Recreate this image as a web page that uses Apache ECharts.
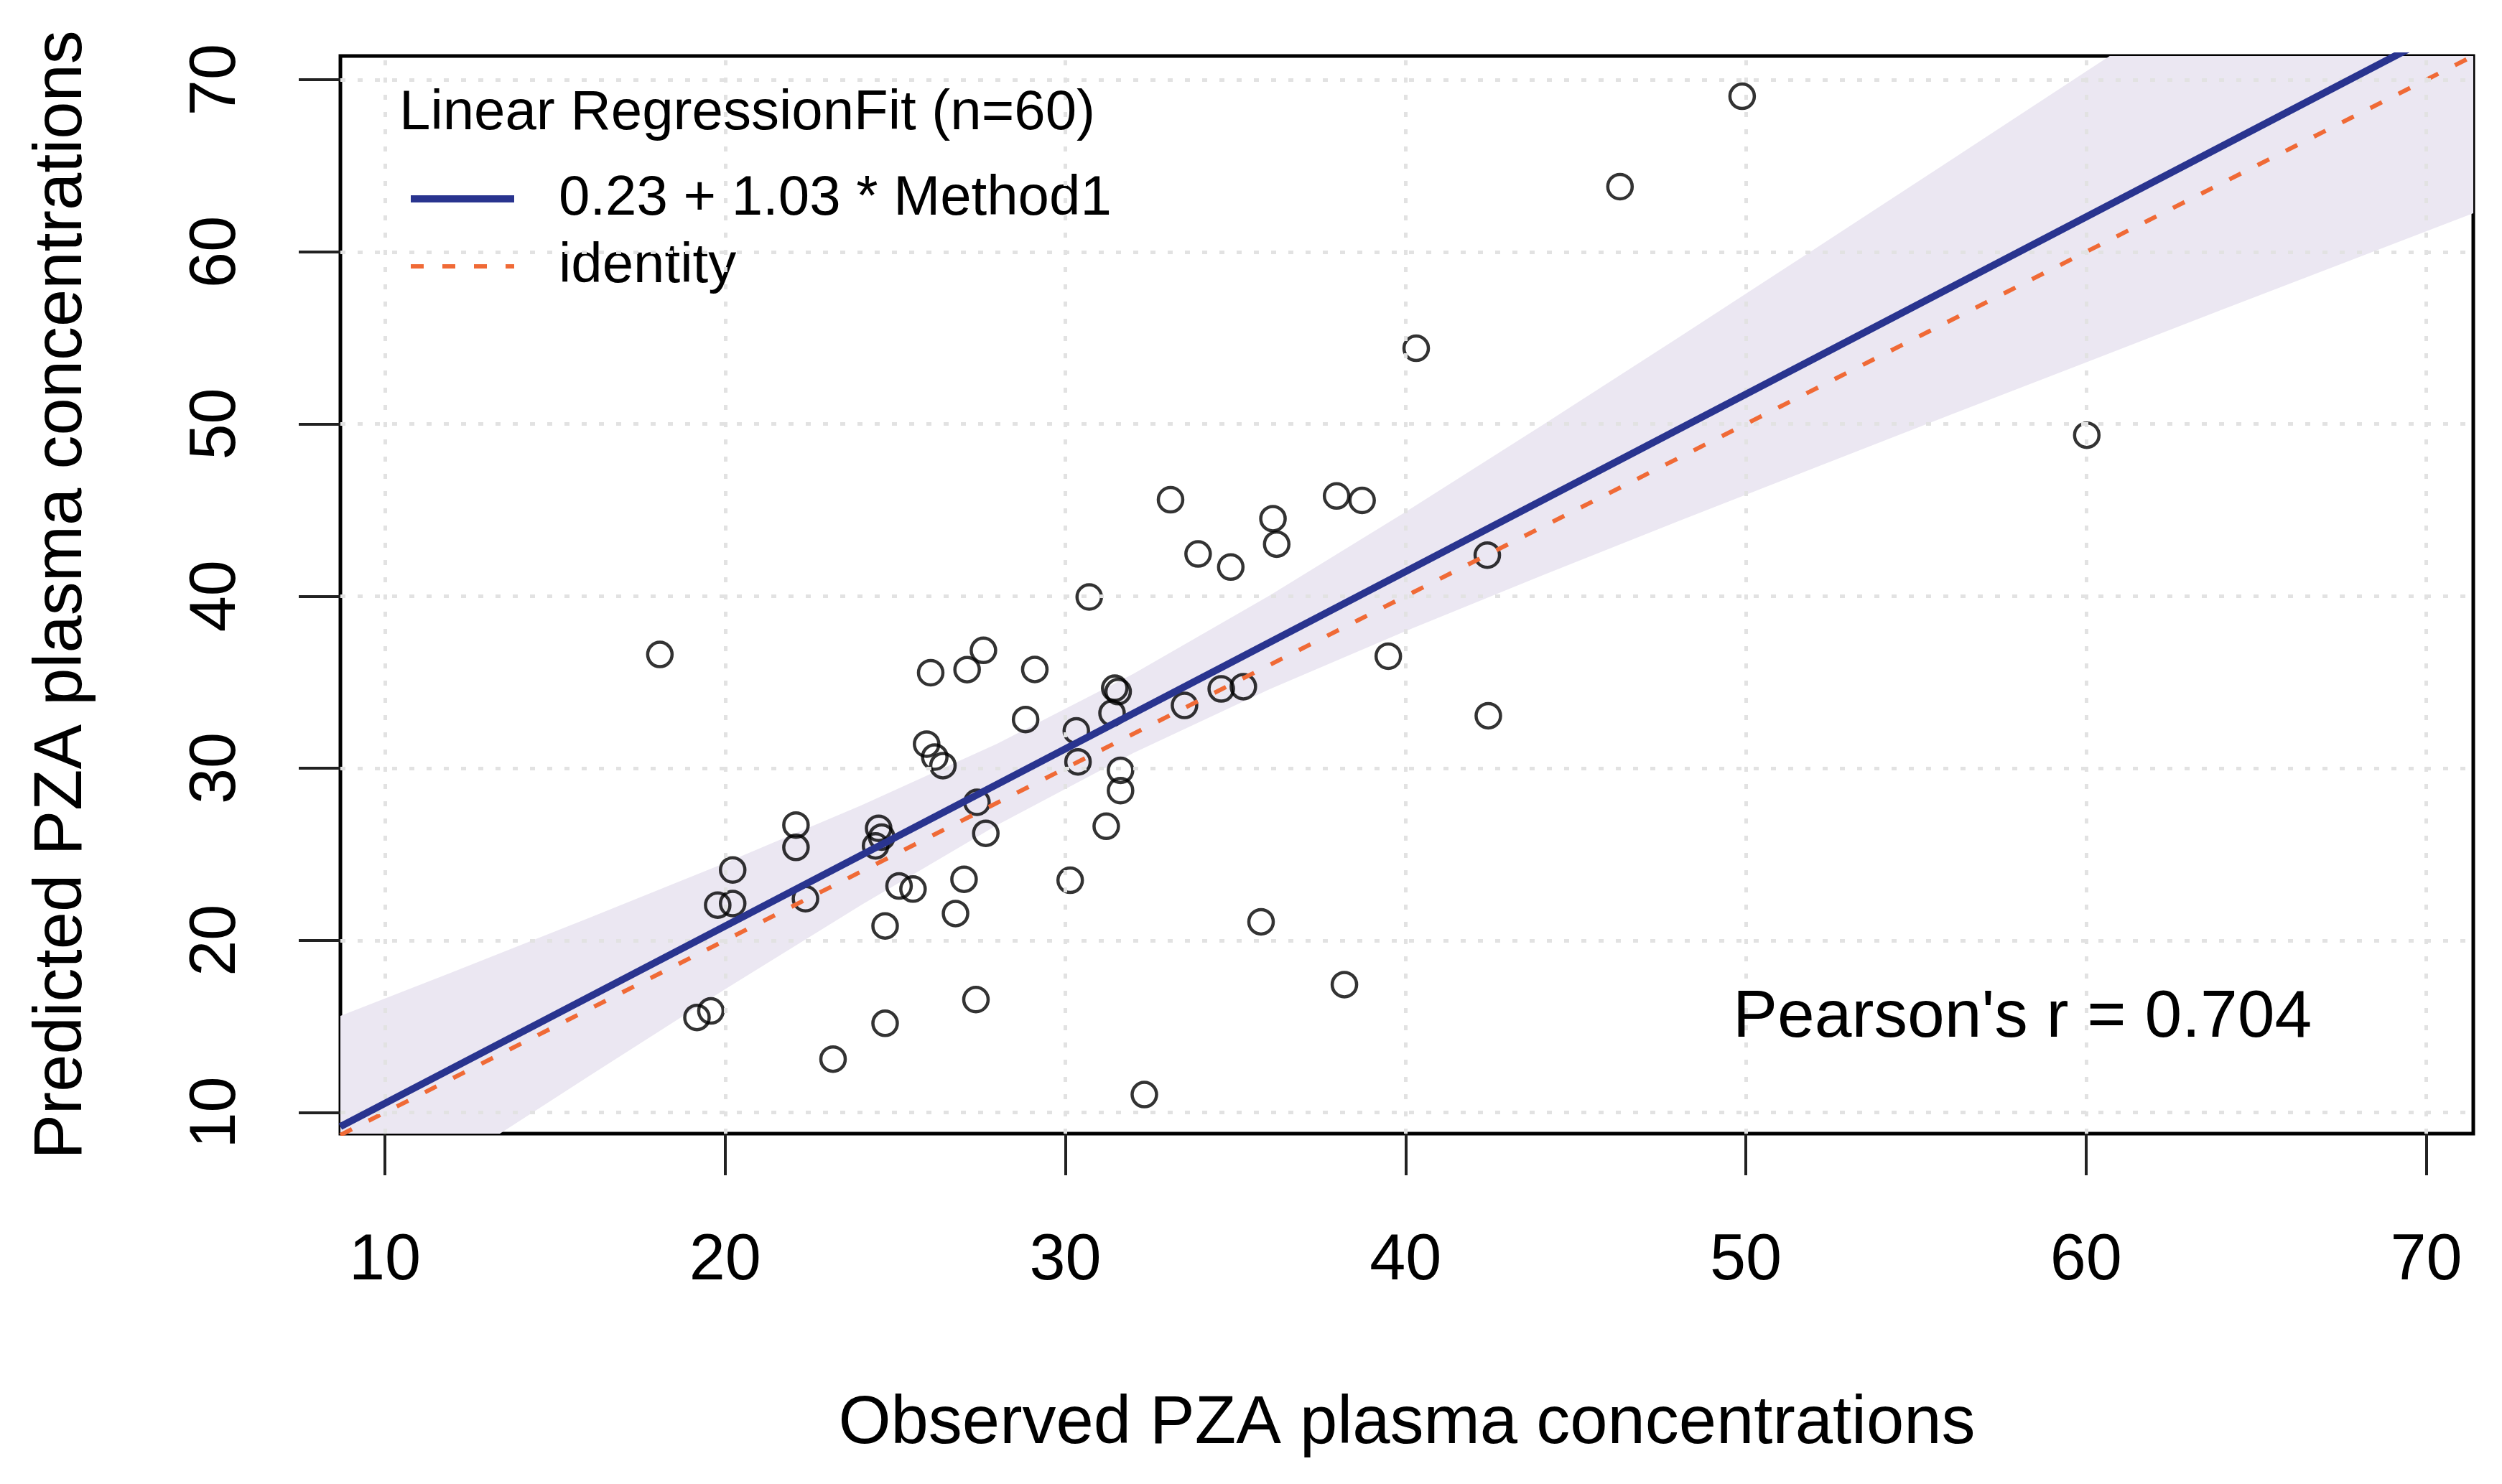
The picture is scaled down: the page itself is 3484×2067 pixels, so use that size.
<!DOCTYPE html>
<html>
<head>
<meta charset="utf-8">
<script src="https://cdn.jsdelivr.net/npm/echarts@6.0.0/dist/echarts.min.js"></script>
<style>
html,body{margin:0;padding:0;background:#fff;}
#main{width:3484px;height:2067px;}
</style>
</head>
<body>
<div id="main"></div>
<script>
// ---- data ----
const observed = [18.08,19.17,19.58,19.78,20.22,20.22,22.08,22.08,22.36,23.17,
  24.51,24.42,24.60,24.70,24.70,25.11,25.52,25.92,26.16,26.40,
  26.04,26.77,27.02,27.11,27.59,27.37,27.40,27.66,28.83,29.10,
  30.14,30.32,30.37,30.70,31.20,31.45,31.55,31.37,31.62,31.62,
  32.32,33.09,33.50,33.90,34.58,34.86,35.23,35.75,36.10,36.21,
  37.97,38.20,38.72,39.49,40.31,42.40,42.43,46.30,49.89,60.02];
const predicted = [36.61,15.52,15.90,22.05,22.14,24.09,26.70,25.40,22.42,13.10,
  26.51,25.49,26.00,20.84,15.18,23.16,22.98,31.40,30.65,30.15,
  35.55,21.56,23.55,35.73,36.85,16.56,28.02,26.22,32.83,35.74,
  23.49,32.17,30.37,39.95,26.63,34.65,34.45,33.20,29.88,28.70,
  11.04,45.60,33.65,42.45,34.61,41.69,34.74,21.08,44.50,43.02,
  45.82,17.43,45.56,36.51,54.40,42.38,33.05,63.79,69.04,49.35];
const bandX     = [8.69, 12, 16, 20, 24, 28, 32, 36, 40, 44, 48, 52, 56, 60, 64, 68, 71.38];
const bandLower = [2.75, 7.01, 12.12, 17.16, 22.06, 26.71, 30.89, 34.59, 37.97, 41.19, 44.34, 47.44, 50.52, 53.58, 56.64, 59.68, 62.25];
const bandUpper = [15.61, 18.17, 21.30, 24.50, 27.84, 31.43, 35.49, 40.03, 44.89, 49.91, 55.00, 60.14, 65.30, 70.48, 75.66, 80.86, 85.25];
const fitX = [8.69, 71.38];
const fitY = [9.18, 73.75];
const identityX = [8.69, 71.38];
const identityY = [8.69, 71.38];
const tickValues = [10, 20, 30, 40, 50, 60, 70];
const xRange = [8.69, 71.38];
const yRange = [8.77, 71.38];
const fitLabel = '0.23 + 1.03 * Method1';
const identityLabel = 'identity';

const FONT = '"Liberation Sans", Arial, Helvetica, sans-serif';
const BLUE = '#29348F';
const ORANGE = '#F06A36';
const chart = echarts.init(document.getElementById('main'));

const points = observed.map((v, i) => [v, predicted[i]]);
const bandData = bandX.map((v, i) => [v, bandLower[i], bandUpper[i]]);
const gridMarks = tickValues.map(v => ({xAxis: v})).concat(tickValues.map(v => ({yAxis: v})));

const option = {
  backgroundColor: '#fff',
  animation: false,
  textStyle: {fontFamily: FONT, color: '#000'},
  grid: {left: 474, right: 40, top: 78, bottom: 488, containLabel: false,
         show: true, borderColor: '#000', borderWidth: 5, backgroundColor: 'transparent'},
  title: [
    {text: 'Linear RegressionFit (n=60)', left: 556, top: 119, padding: 0,
     textStyle: {fontFamily: FONT, fontSize: 78, fontWeight: 'normal', color: '#000'}},
    {text: "Pearson's r = 0.704", left: 2413, top: 1372, padding: 0,
     textStyle: {fontFamily: FONT, fontSize: 93, fontWeight: 'normal', color: '#000'}}
  ],
  legend: {
    data: [fitLabel, identityLabel], orient: 'vertical', left: 567, top: 238, padding: 0,
    itemWidth: 144, itemHeight: 20, itemGap: 16,
    textStyle: {fontFamily: FONT, fontSize: 78, color: '#000', padding: [0, 0, 0, 57]},
    lineStyle: {width: 'inherit'},
    itemStyle: {opacity: 0}
  },
  xAxis: {
    type: 'value', min: xRange[0], max: xRange[1],
    name: 'Observed PZA plasma concentrations', nameLocation: 'middle', nameGap: 358,
    nameTextStyle: {fontFamily: FONT, fontSize: 94, color: '#000'},
    axisLine: {show: false},
    axisTick: {show: true, customValues: tickValues, length: 58, lineStyle: {color: '#222', width: 4}},
    axisLabel: {customValues: tickValues, fontFamily: FONT, fontSize: 90, color: '#000', margin: 133},
    splitLine: {show: false}
  },
  yAxis: {
    type: 'value', min: yRange[0], max: yRange[1],
    name: 'Predicted PZA plasma concentrations', nameLocation: 'middle', nameGap: 340,
    nameTextStyle: {fontFamily: FONT, fontSize: 94, color: '#000'},
    axisLine: {show: false},
    axisTick: {show: true, customValues: tickValues, length: 58, lineStyle: {color: '#222', width: 4}},
    axisLabel: {customValues: tickValues, fontFamily: FONT, fontSize: 90, color: '#000', margin: 127, rotate: 90},
    splitLine: {show: false}
  },
  series: [
    {
      name: 'band', type: 'custom', clip: true, z: 1, silent: true,
      data: bandData,
      encode: {x: 0, y: [1, 2]},
      renderItem: function (params, api) {
        if (params.dataIndex !== 0) return null;
        const pts = [];
        for (let i = 0; i < bandX.length; i++) pts.push(api.coord([bandX[i], bandUpper[i]]));
        for (let i = bandX.length - 1; i >= 0; i--) pts.push(api.coord([bandX[i], bandLower[i]]));
        return {type: 'polygon', shape: {points: pts}, style: {fill: '#EBE7F2'}};
      }
    },
    {
      name: 'gridlines', type: 'line', data: [], z: 2, silent: true,
      markLine: {
        silent: true, symbol: ['none', 'none'], label: {show: false},
        lineStyle: {color: '#E2E2E2', type: [7, 17], width: 5},
        emphasis: {disabled: true},
        data: gridMarks
      }
    },
    {
      name: 'points', type: 'scatter', z: 3, data: points,
      symbol: 'circle', symbolSize: 34,
      itemStyle: {color: 'rgba(0,0,0,0)', borderColor: '#000', borderWidth: 4.5}
    },
    {
      name: identityLabel, type: 'line', z: 4,
      data: identityX.map((v, i) => [v, identityY[i]]),
      symbol: 'none', showSymbol: false,
      itemStyle: {color: ORANGE},
      lineStyle: {color: ORANGE, width: 6, type: [18, 26]}
    },
    {
      name: fitLabel, type: 'line', z: 5,
      data: fitX.map((v, i) => [v, fitY[i]]),
      symbol: 'none', showSymbol: false,
      itemStyle: {color: BLUE},
      lineStyle: {color: BLUE, width: 10}
    }
  ]
};
chart.setOption(option);
</script>
</body>
</html>
